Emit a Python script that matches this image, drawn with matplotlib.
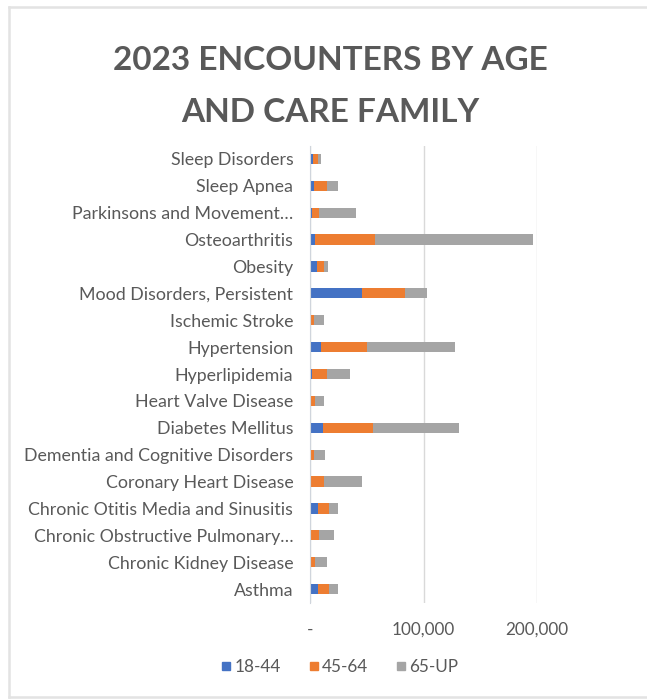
import numpy as np
import matplotlib
matplotlib.use("Agg")
import matplotlib.pyplot as plt
from matplotlib.lines import Line2D
from matplotlib.ticker import FuncFormatter

plt.rcParams["font.family"] = ["Lato", "DejaVu Sans"]

# care families, top to bottom as shown
families = [
    "Sleep Disorders",
    "Sleep Apnea",
    "Parkinsons and Movement\u2026",
    "Osteoarthritis",
    "Obesity",
    "Mood Disorders, Persistent",
    "Ischemic Stroke",
    "Hypertension",
    "Hyperlipidemia",
    "Heart Valve Disease",
    "Diabetes Mellitus",
    "Dementia and Cognitive Disorders",
    "Coronary Heart Disease",
    "Chronic Otitis Media and Sinusitis",
    "Chronic Obstructive Pulmonary\u2026",
    "Chronic Kidney Disease",
    "Asthma",
]
age_18_44 = [2400, 3800, 1800, 4700, 6200, 46000, 400, 10000,
             2100, 500, 11200, 600, 500, 6800, 500, 500, 6800]
age_45_64 = [4400, 11200, 5900, 52200, 6500, 38000, 3200, 40100,
             13000, 3800, 44200, 3000, 12100, 10000, 7100, 3800, 10000]
age_65_up = [3200, 9400, 32400, 139200, 2900, 19500, 8600, 77600,
             19800, 8000, 75800, 9400, 33000, 8000, 13300, 10600, 8000]

series = [("18-44", age_18_44, "#4472C4"),
          ("45-64", age_45_64, "#ED7D31"),
          ("65-UP", age_65_up, "#A5A5A5")]

W, H = 647, 700
fig = plt.figure(figsize=(W / 100, H / 100), dpi=100)

# chart border (left, top, bottom only; right edge is cut off)
border = dict(transform=fig.transFigure, color="#E3E3E3", linewidth=1.8)
fig.add_artist(Line2D([9 / W, 9 / W], [1 - 7 / H, 1 - 697 / H], **border))
fig.add_artist(Line2D([9 / W, 1.01], [1 - 7 / H, 1 - 7 / H], **border))
fig.add_artist(Line2D([9 / W, 1.01], [1 - 697 / H, 1 - 697 / H], **border))

ax = fig.add_axes([310 / W, 1 - 602.5 / H, 227 / W, 457 / H])
y = np.arange(len(families))
left = np.zeros(len(families))
for name, vals, color in series:
    ax.barh(y, vals, left=left, height=0.38, color=color, label=name, zorder=3)
    left += np.array(vals)

ax.set_ylim(len(families) - 0.5, -0.5)
ax.set_xlim(0, 200000)
ax.set_xticks([0, 100000, 200000])
ax.xaxis.set_major_formatter(FuncFormatter(lambda v, p: "-" if v == 0 else f"{v:,.0f}"))
ax.set_yticks(y)
ax.set_yticklabels(families)
ax.tick_params(axis="y", length=0, pad=12, labelsize=12.8, labelcolor="#595959")
ax.tick_params(axis="x", length=0, pad=14, labelsize=12.3, labelcolor="#595959")
ax.grid(axis="x", color="#D9D9D9", linewidth=1, zorder=0)
for s in ["top", "right", "bottom"]:
    ax.spines[s].set_visible(False)
ax.spines["left"].set_color("#D0D5DC")
ax.spines["left"].set_zorder(4)

fig.text(330 / W, 1 - 60 / H, "2023 ENCOUNTERS BY AGE", ha="center", va="center",
         fontsize=24, fontweight="bold", color="#595959")
fig.text(330 / W, 1 - 112 / H, "AND CARE FAMILY", ha="center", va="center",
         fontsize=24, fontweight="bold", color="#595959")

handles = [Line2D([], [], marker="s", linestyle="", markersize=6, color=c) for _, _, c in series]
fig.legend(handles, [n for n, _, _ in series], loc="center", bbox_to_anchor=(338 / W, 1 - 667 / H),
           ncol=3, frameon=False, fontsize=12.3, handletextpad=0.0, columnspacing=1.4,
           handlelength=1.0, labelcolor="#595959")

fig.savefig("out.png", dpi=100)
